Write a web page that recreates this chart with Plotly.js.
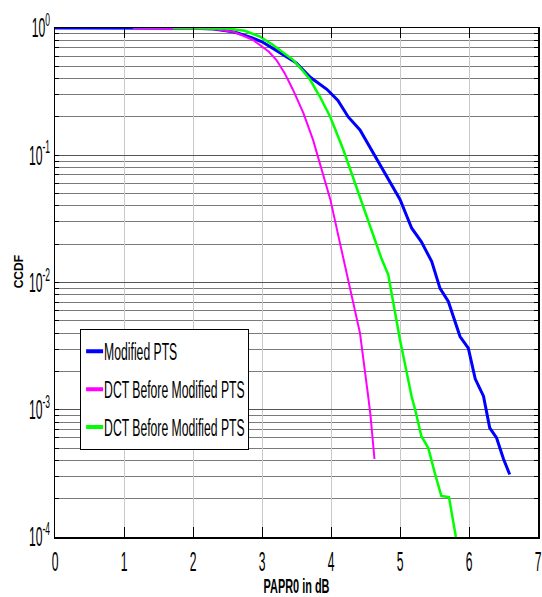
<!DOCTYPE html>
<html>
<head>
<meta charset="utf-8">
<script src="https://cdn.plot.ly/plotly-3.0.1.min.js"></script>
<style>html,body{margin:0;padding:0;background:#fff;}#chart{width:542px;height:597px;}</style>
</head>
<body>
<div id="chart"></div>
<script>
// Modified PTS
const blueX = [0, 1.0, 2.0, 2.3, 2.6, 2.85, 3.0, 3.2, 3.35, 3.5, 3.7, 3.94, 4.1, 4.25, 4.42, 4.61, 4.81, 5.0, 5.17, 5.31, 5.46, 5.58, 5.70, 5.80, 5.87, 5.99, 6.09, 6.21, 6.30, 6.40, 6.50, 6.59];
const blueY = [1, 1, 0.995, 0.98, 0.93, 0.84, 0.78, 0.67, 0.6, 0.53, 0.41, 0.33, 0.27, 0.20, 0.158, 0.104, 0.068, 0.045, 0.0267, 0.0209, 0.0146, 0.0090, 0.0071, 0.0048, 0.00376, 0.00305, 0.00175, 0.00128, 0.00072, 0.0006, 0.00041, 0.00031];
// DCT Before Modified PTS (magenta)
const magX = [1.13, 2.0, 2.3, 2.6, 2.87, 2.97, 3.1, 3.21, 3.33, 3.45, 3.60, 3.74, 3.87, 3.99, 4.13, 4.28, 4.42, 4.54, 4.57, 4.63];
const magY = [1, 0.995, 0.98, 0.93, 0.805, 0.735, 0.65, 0.56, 0.44, 0.326, 0.214, 0.132, 0.077, 0.045, 0.0204, 0.0087, 0.0040, 0.00126, 0.00093, 0.00041];
// DCT Before Modified PTS (green)
const grnX = [1.71, 2.2, 2.5, 2.75, 2.97, 3.16, 3.3, 3.45, 3.58, 3.70, 3.84, 3.99, 4.18, 4.42, 4.61, 4.73, 4.83, 4.90, 5.0, 5.17, 5.22, 5.31, 5.41, 5.51, 5.60, 5.71, 5.81];
const grnY = [1, 0.998, 0.99, 0.95, 0.855, 0.735, 0.65, 0.562, 0.47, 0.39, 0.288, 0.2, 0.11, 0.047, 0.0245, 0.0155, 0.0115, 0.0069, 0.00355, 0.00126, 0.001, 0.00062, 0.0005, 0.00031, 0.00021, 0.000206, 0.0001];

const seriesNames = ["Modified PTS", "DCT Before Modified PTS", "DCT Before Modified PTS"];
const xTickVals = [0, 1, 2, 3, 4, 5, 6, 7];
const xTickText = ["0", "1", "2", "3", "4", "5", "6", "7"];
const decadeExps = [-4, -3, -2, -1, 0];
const minorMults = [2, 3, 4, 5, 6, 7, 8, 9];

const yTickVals = decadeExps.map(function (e) { return Math.pow(10, e); });
const yTickText = decadeExps.map(function (e) { return "10<sup>" + e + "</sup>"; });
const yMinorVals = [];
decadeExps.forEach(function (e) {
  if (e < 0) minorMults.forEach(function (m) { yMinorVals.push(m * Math.pow(10, e)); });
});

const fontFam = "'Liberation Sans', Arial, sans-serif";

const traces = [
  {x: blueX, y: blueY, name: seriesNames[0], legendgroup: "a", mode: "lines", line: {color: "#0000ff", width: 3}},
  {x: magX, y: magY, name: seriesNames[1], legendgroup: "b", mode: "lines", line: {color: "#ff00ff", width: 2}},
  {x: grnX, y: grnY, name: seriesNames[2], legendgroup: "c", mode: "lines", line: {color: "#00ff00", width: 2.5}}
];

const layout = {
  width: 542, height: 597,
  margin: {l: 55, r: 4, t: 28, b: 60},
  paper_bgcolor: "#fff", plot_bgcolor: "#fff",
  font: {family: fontFam, color: "#000", size: 18},
  showlegend: true,
  legend: {
    x: 0.052, y: 0.409, xanchor: "left", yanchor: "top",
    bgcolor: "#fff", bordercolor: "#000", borderwidth: 1,
    font: {family: fontFam, size: 23, color: "#000"},
    traceorder: "grouped", tracegroupgap: 5
  },
  xaxis: {
    range: [0, 7], tickvals: xTickVals, ticktext: xTickText,
    showline: true, linecolor: "#000", linewidth: 1.5, mirror: "allticks",
    ticks: "inside", ticklen: 10, tickcolor: "#000",
    showgrid: true, gridcolor: "#c8c8c8", gridwidth: 1,
    zeroline: false, ticklabeloverflow: "allow",
    tickfont: {family: fontFam, size: 27},
    title: {text: "<b>PAPR0 in dB</b>", font: {family: fontFam, size: 21}, standoff: 2}
  },
  yaxis: {
    type: "log", range: [-4, 0],
    tickvals: yTickVals, ticktext: yTickText,
    showline: true, linecolor: "#000", linewidth: 1.5, mirror: "allticks",
    ticks: "inside", ticklen: 4, tickcolor: "#000",
    showgrid: true, gridcolor: "#555", gridwidth: 1.2,
    zeroline: false, ticklabeloverflow: "allow",
    tickfont: {family: fontFam, size: 27},
    minor: {tickmode: "array", tickvals: yMinorVals, ticks: "inside", ticklen: 4, tickcolor: "#000",
            showgrid: true, gridcolor: "#7a7a7a", gridwidth: 1}
  },
  annotations: [{
    text: "<b>CCDF</b>", xref: "paper", yref: "paper", x: -0.0745, y: 0.52,
    xanchor: "center", yanchor: "middle",
    textangle: -90, showarrow: false, font: {family: fontFam, size: 12, color: "#000"}
  }]
};

function squeeze(sel, s, dx) {
  document.querySelectorAll(sel).forEach(function (t) {
    const x = parseFloat(t.getAttribute("x")) || 0;
    const prev = t.getAttribute("transform") || "";
    t.setAttribute("transform", prev + " translate(" + (x + (dx || 0)) + ",0) scale(" + s + ",1) translate(" + (-x) + ",0)");
  });
}

Plotly.newPlot("chart", traces, layout, {displayModeBar: false, staticPlot: true}).then(function (gd) {
  // shorter, thick legend line samples, text closer to them
  gd.querySelectorAll(".legend .legendlines path").forEach(function (p) {
    p.setAttribute("d", "M5,0h17");
    p.style.strokeWidth = "4px";
  });
  gd.querySelectorAll(".legend .legendtext").forEach(function (t) {
    t.setAttribute("x", parseFloat(t.getAttribute("x")) - 17);
  });
  squeeze(".legend .legendtext", 0.53, 0);
  squeeze(".xtick text", 0.45, 0);
  squeeze(".ytick text", 0.45, 2);
  squeeze(".g-xtitle text", 0.52, 0);
  // fit legend frame to condensed text
  const bg = gd.querySelector(".legend .bg");
  if (bg) {
    const r = bg.getBoundingClientRect();
    let right = 0;
    gd.querySelectorAll(".legend .legendtext").forEach(function (t) {
      right = Math.max(right, t.getBoundingClientRect().right);
    });
    bg.setAttribute("width", Math.round(right - r.left + 4));
  }
});
</script>
</body>
</html>
